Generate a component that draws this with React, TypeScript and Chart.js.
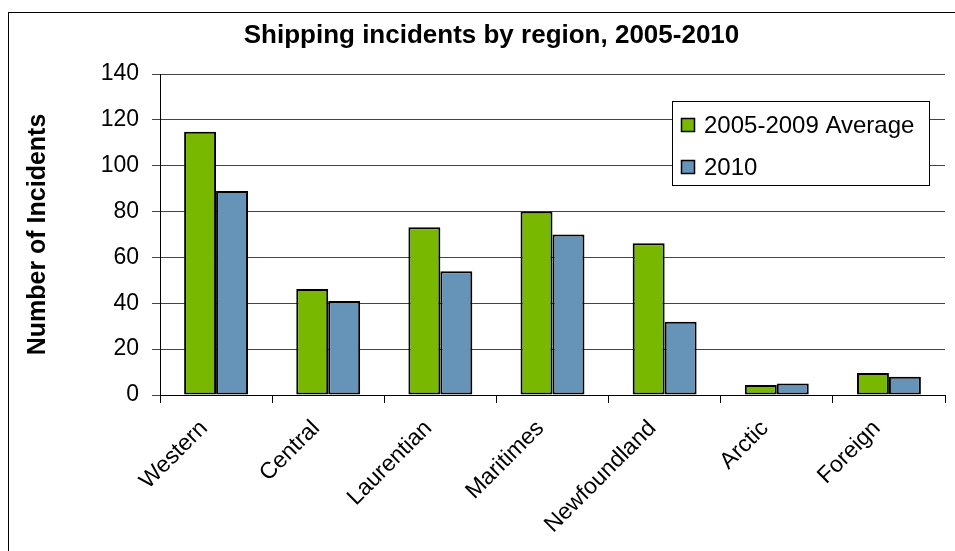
import React, { useEffect, useRef } from "react";
import { Chart, registerables } from "chart.js";

Chart.register(...registerables);

const categories = ["Western", "Central", "Laurentian", "Maritimes", "Newfoundland", "Arctic", "Foreign"];
const seriesNames = ["2005-2009 Average", "2010"];
const average0509 = [114.8, 46.2, 73.2, 80, 66.2, 4.4, 9.6];
const values2010 = [89, 41, 54, 70, 32, 5, 8];
const seriesColors = ["#78B800", "#6694B8"];
const yTicksMax = 140;
const yTicksStep = 20;
const chartTitle = "Shipping incidents by region, 2005-2010";
const yAxisTitle = "Number of Incidents";

const FONT = "'Liberation Sans', Arial, sans-serif";

const titleAndLegend = {
  id: "titleAndLegend",
  afterDraw(chart: any) {
    const { ctx, chartArea } = chart;
    ctx.save();
    // title
    ctx.fillStyle = "#000";
    ctx.font = `bold 26px ${FONT}`;
    ctx.textAlign = "center";
    ctx.textBaseline = "alphabetic";
    ctx.fillText(chartTitle, 491.5, 43);
    // legend
    const w = 257;
    const h = 84;
    const x = chartArea.right - 16 - w;
    const y = chartArea.top + 27;
    ctx.fillStyle = "#fff";
    ctx.fillRect(x, y, w, h);
    ctx.strokeStyle = "#000";
    ctx.lineWidth = 1;
    ctx.strokeRect(x + 0.5, y + 0.5, w, h);
    chart.data.datasets.forEach((ds: any, i: number) => {
      const cy = y + 24 + i * 42;
      ctx.fillStyle = ds.backgroundColor;
      ctx.fillRect(x + 9, cy - 7, 14, 14);
      ctx.strokeStyle = "#000";
      ctx.lineWidth = 1.5;
      ctx.strokeRect(x + 9.5, cy - 6.5, 13, 13);
      ctx.fillStyle = "#000";
      ctx.font = `24px ${FONT}`;
      ctx.textAlign = "left";
      ctx.textBaseline = "middle";
      ctx.fillText(ds.label, x + 32, cy + 1);
    });
    ctx.restore();
  },
};

export default function App() {
  const ref = useRef<HTMLCanvasElement | null>(null);
  useEffect(() => {
    if (!ref.current) return;
    const chart = new Chart(ref.current, {
      type: "bar",
      data: {
        labels: categories,
        datasets: [
          {
            label: seriesNames[0],
            data: average0509,
            backgroundColor: seriesColors[0],
            borderColor: "#000",
            borderWidth: 2,
            borderSkipped: false,
            categoryPercentage: 0.57,
            barPercentage: 1.0,
          },
          {
            label: seriesNames[1],
            data: values2010,
            backgroundColor: seriesColors[1],
            borderColor: "#000",
            borderWidth: 2,
            borderSkipped: false,
            categoryPercentage: 0.57,
            barPercentage: 1.0,
          },
        ],
      },
      options: {
        responsive: false,
        animation: false,
        layout: { padding: { top: 74, right: 10, left: 0, bottom: 0 } },
        plugins: {
          legend: { display: false },
          title: { display: false },
          tooltip: { enabled: false },
        },
        scales: {
          x: {
            afterFit(scale: any) {
              scale.height = 156;
            },
            grid: {
              display: true,
              offset: true,
              drawOnChartArea: false,
              drawTicks: true,
              tickLength: 8,
              color: "#000",
            },
            border: { display: true, color: "#000", width: 1 },
            ticks: {
              minRotation: 45,
              maxRotation: 45,
              autoSkip: false,
              padding: 12,
              labelOffset: -12,
              color: "#000",
              font: { family: FONT, size: 23 },
            },
          },
          y: {
            min: 0,
            max: yTicksMax,
            afterFit(scale: any) {
              scale.width = 160;
            },
            grid: {
              color: "#444",
              tickLength: 8,
              drawTicks: true,
            },
            border: { display: true, color: "#000", width: 1 },
            ticks: {
              stepSize: yTicksStep,
              padding: 13,
              color: "#000",
              font: { family: FONT, size: 23 },
            },
            title: {
              display: true,
              text: yAxisTitle,
              color: "#000",
              padding: { top: 23, bottom: 0 },
              font: { family: FONT, size: 25, weight: "bold" },
            },
          },
        },
      },
      plugins: [titleAndLegend],
    });
    return () => chart.destroy();
  }, []);

  return (
    <div>
      <div
        style={{
          position: "absolute",
          left: 8,
          top: 12,
          width: 947,
          height: 539,
          borderLeft: "1.5px solid #000",
          borderTop: "1.5px solid #000",
          boxSizing: "border-box",
        }}
      />
      <canvas
        ref={ref}
        width={955}
        height={551}
        style={{ position: "absolute", left: 0, top: 0, width: 955, height: 551 }}
      />
    </div>
  );
}
